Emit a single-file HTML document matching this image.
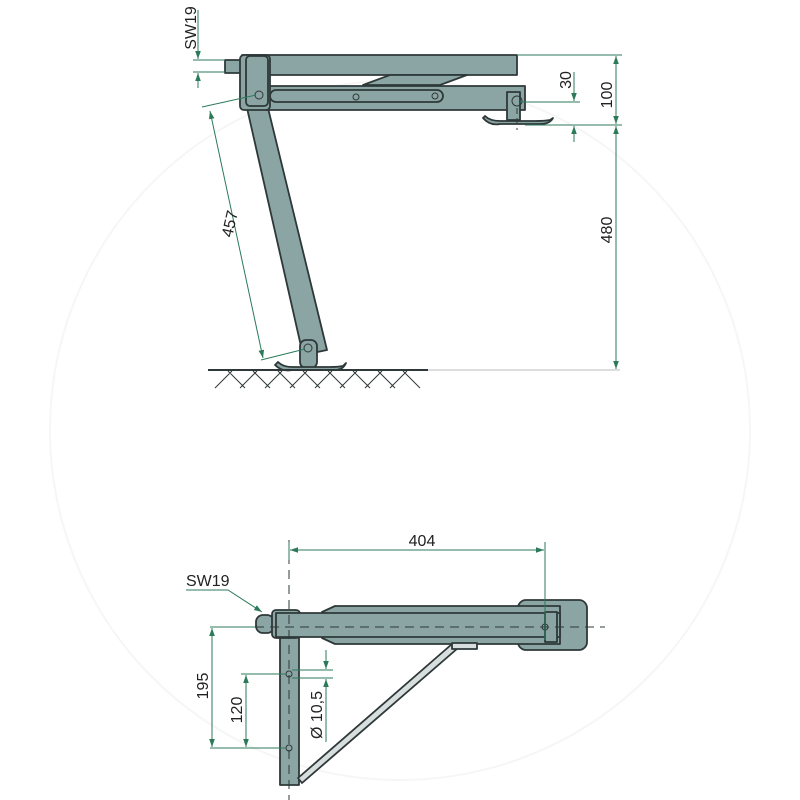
<!DOCTYPE html>
<html><head><meta charset="utf-8"><style>
html,body{margin:0;padding:0;background:#fff}
svg{display:block}
text{font-family:"Liberation Sans",sans-serif;fill:#222}
</style></head><body>
<svg width="800" height="800" viewBox="0 0 800 800" xmlns="http://www.w3.org/2000/svg">
<defs>
<marker id="a" viewBox="0 0 10 10" refX="10" refY="5" markerWidth="8" markerHeight="8" orient="auto-start-reverse"><path d="M0,1.5 L10,5 L0,8.5z" fill="#2b7a5a"/></marker>
</defs>
<circle cx="400" cy="430" r="350" fill="none" stroke="#f6f6f6" stroke-width="2"/>
<g fill="#8ba5a5" stroke="#2e3838" stroke-width="1.8" stroke-linejoin="round">
<!-- top view -->
<rect x="225" y="60" width="17" height="13"/>
<rect x="242" y="55" width="275" height="20"/>
<polygon points="363,85 390,75 467,75 440,85"/>
<polygon points="247,108 268,108 327,350 303,355"/>
<rect x="266" y="86" width="259" height="24"/>
<rect x="270" y="90" width="173" height="12" rx="6"/>
<rect x="240" y="55" width="30" height="55" rx="4"/>
<rect x="246" y="56" width="22" height="50" rx="4"/>
<rect x="507" y="92" width="13" height="28"/>
<path d="M483,118 Q490,126 500,124 L540,124 Q550,124 553,118 L550,120 Q545,121 535,121 L500,121 Q490,121 485,116z"/>
<rect x="300" y="340" width="17" height="28" rx="6"/>
<path d="M275,365 Q282,372 292,370 L335,370 Q343,370 346,363 L343,366 Q338,367 330,367 L292,367 Q283,367 278,362z"/>
<!-- bottom view -->
<rect x="518" y="600" width="69" height="50" rx="8"/>
<path d="M322,612 L335,606 L560,606 L560,644 L335,644 L322,638z"/>
<rect x="256" y="615" width="18" height="18" rx="7"/>
<rect x="280" y="635" width="19" height="150"/>
<rect x="272" y="610" width="28" height="28" rx="4"/>
<rect x="276" y="613" width="284" height="24"/>
<rect x="545" y="612" width="12" height="30"/>
<polygon points="298,778 452,644 458,648 302,783" fill="#d8dede"/>
<rect x="452" y="643" width="25" height="6" fill="#d8dede"/>
</g>
<g fill="none" stroke="#2e3838" stroke-width="1">
<circle cx="259" cy="95" r="4"/><circle cx="356" cy="97" r="3"/><circle cx="435" cy="96" r="3"/>
<circle cx="517" cy="101" r="5"/><circle cx="308" cy="348" r="4"/>
<line x1="517" y1="108" x2="517" y2="130" stroke-dasharray="6,4"/>
<line x1="208" y1="370" x2="428" y2="370" stroke-width="2"/>
<path d="M215,388 L232,371 M240,388 L257,371 M265,388 L282,371 M290,388 L307,371 M315,388 L332,371 M340,388 L357,371 M365,388 L382,371 M390,388 L407,371 M245,388 L228,371 M270,388 L253,371 M295,388 L278,371 M320,388 L303,371 M345,388 L328,371 M370,388 L353,371 M395,388 L378,371 M420,388 L403,371"/>
<line x1="289" y1="540" x2="289" y2="800" stroke-dasharray="9,6"/>
<line x1="255" y1="627" x2="605" y2="627" stroke-dasharray="9,6"/>
<circle cx="289" cy="674" r="3"/><circle cx="289" cy="748" r="3"/><circle cx="545" cy="627" r="3"/>
</g>
<g stroke="#2b7a5a" stroke-width="1" fill="none">
<line x1="428" y1="370" x2="620" y2="370" stroke="#bbb"/>
<line x1="517" y1="55" x2="622" y2="55"/>
<line x1="525" y1="125" x2="622" y2="125"/>
<line x1="520" y1="102" x2="580" y2="102"/>
<line x1="616" y1="56" x2="616" y2="124" marker-start="url(#a)" marker-end="url(#a)"/>
<line x1="616" y1="126" x2="616" y2="369" marker-start="url(#a)" marker-end="url(#a)"/>
<line x1="574" y1="72" x2="574" y2="101" marker-end="url(#a)"/>
<line x1="574" y1="142" x2="574" y2="126" marker-end="url(#a)"/>
<line x1="198" y1="10" x2="198" y2="59" marker-end="url(#a)"/>
<line x1="198" y1="88" x2="198" y2="73" marker-end="url(#a)"/>
<line x1="193" y1="60" x2="225" y2="60"/><line x1="193" y1="72" x2="225" y2="72"/>
<line x1="202" y1="107" x2="256" y2="95"/>
<line x1="261" y1="360" x2="305" y2="349"/>
<line x1="210" y1="111" x2="263" y2="358" marker-start="url(#a)" marker-end="url(#a)"/>
<line x1="289" y1="542" x2="289" y2="560"/><line x1="545" y1="542" x2="545" y2="640"/>
<line x1="290" y1="550" x2="544" y2="550" marker-start="url(#a)" marker-end="url(#a)"/>
<polyline points="186,590 228,590 262,612" marker-end="url(#a)"/>
<line x1="210" y1="627" x2="255" y2="627"/><line x1="210" y1="748" x2="286" y2="748"/>
<line x1="241" y1="674" x2="286" y2="674"/><line x1="292" y1="670" x2="333" y2="670"/><line x1="292" y1="678" x2="333" y2="678"/>
<line x1="212" y1="628" x2="212" y2="747" marker-start="url(#a)" marker-end="url(#a)"/>
<line x1="246" y1="675" x2="246" y2="747" marker-start="url(#a)" marker-end="url(#a)"/>
<line x1="326" y1="650" x2="326" y2="669" marker-end="url(#a)"/>
<line x1="326" y1="742" x2="326" y2="679" marker-end="url(#a)"/>
</g>
<g font-size="16">
<text transform="translate(196,28) rotate(-90)" text-anchor="middle">SW19</text>
<text transform="translate(571,80) rotate(-90)" text-anchor="middle">30</text>
<text transform="translate(612,95) rotate(-90)" text-anchor="middle">100</text>
<text transform="translate(612,230) rotate(-90)" text-anchor="middle">480</text>
<text transform="translate(235,225) rotate(-77)" text-anchor="middle">457</text>
<text x="422" y="546" text-anchor="middle">404</text>
<text x="186" y="586">SW19</text>
<text transform="translate(208,686) rotate(-90)" text-anchor="middle">195</text>
<text transform="translate(242,710) rotate(-90)" text-anchor="middle">120</text>
<text transform="translate(322,715) rotate(-90)" text-anchor="middle">Ø 10,5</text>
</g>
</svg>
</body></html>
